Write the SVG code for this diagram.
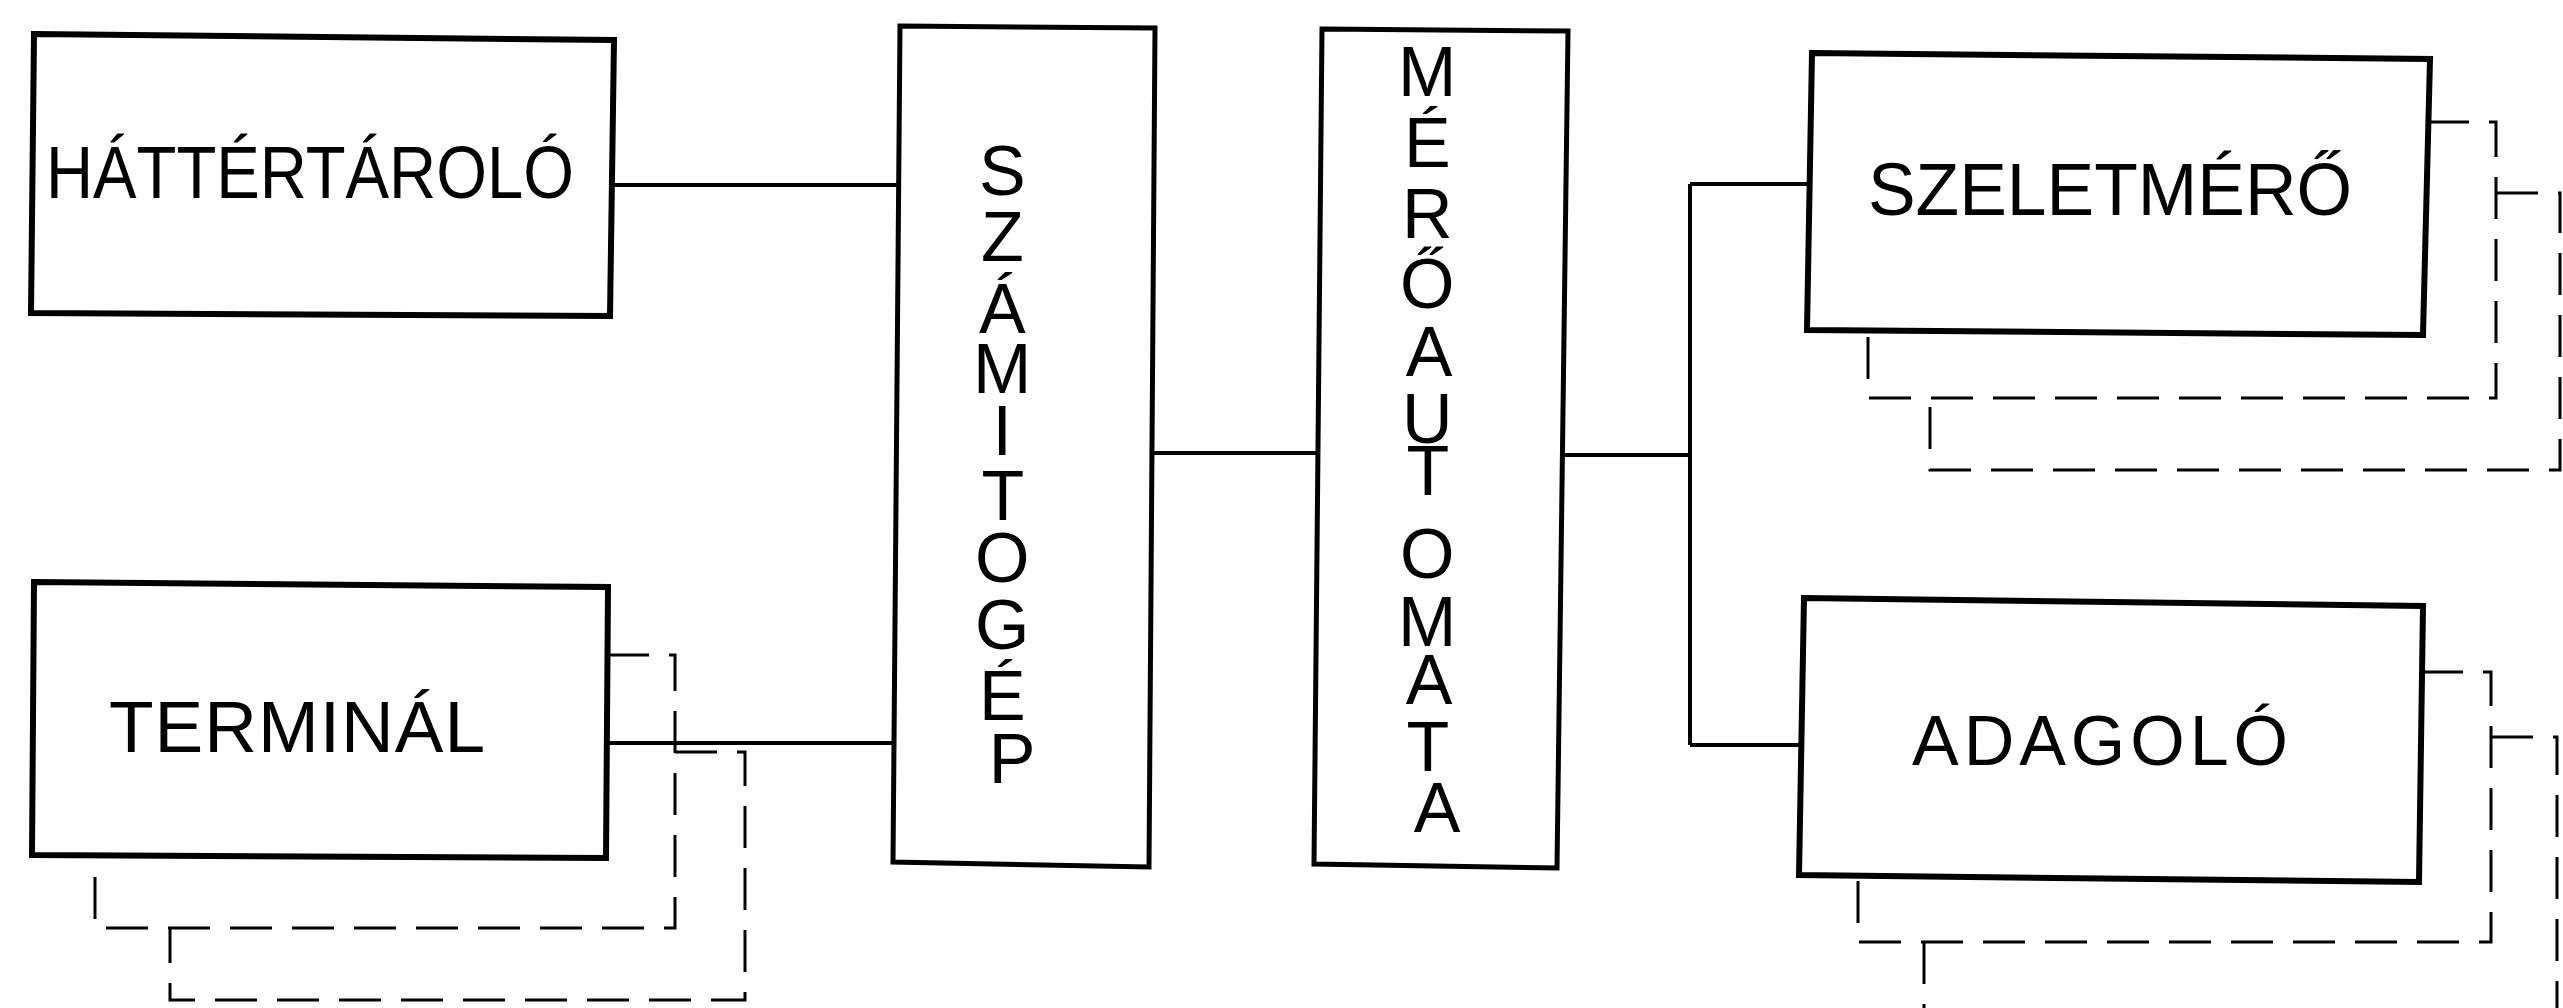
<svg xmlns="http://www.w3.org/2000/svg" width="2563" height="1008" viewBox="0 0 2563 1008">
  <style>
    .box { fill: none; stroke: #000; stroke-width: 6; stroke-linejoin: miter; }
    .tall { stroke-width: 5; }
    .wire { fill: none; stroke: #000; stroke-width: 4; }
    .stack { fill: none; stroke: #000; stroke-width: 3; stroke-dasharray: 42 20; }
    .lbl { font-family: "Liberation Sans", Arial, sans-serif; fill: #000; }
    .col { font-size: 70px; text-anchor: middle; }
  </style>
  <rect x="0" y="0" width="2563" height="1008" fill="#fff"/>

  <!-- solid links between the units -->
  <g id="connectors">
    <path class="wire" d="M614 185 H898"/>
    <path class="wire" d="M607 743 H895"/>
    <path class="wire" d="M1152 453 H1318"/>
    <path class="wire" d="M1561 455 H1690"/>
    <path class="wire" d="M1690 184 V745"/>
    <path class="wire" d="M1690 184 H1810"/>
    <path class="wire" d="M1690 745 H1801"/>
  </g>

  <!-- background store -->
  <g id="node-hattertarolo">
    <polygon class="box" points="34,34 614,40 610,316 31,313"/>
    <text class="lbl" x="46" y="198" font-size="74" textLength="528" lengthAdjust="spacingAndGlyphs">HÁTTÉRTÁROLÓ</text>
  </g>

  <!-- terminals, with the stacked units behind -->
  <g id="node-terminal">
    <path class="stack" d="M607 655 H675 V928 H95 V857"/>
    <path class="stack" d="M675 752 H745 V1000 H170 V928"/>
    <polygon class="box" points="34,582 608,587 606,858 32,855" fill="#fff"/>
    <text class="lbl" x="109" y="752" font-size="73" textLength="376" lengthAdjust="spacing">TERMINÁL</text>
  </g>

  <!-- computer: one letter per row -->
  <g id="node-szamitogep">
    <polygon class="box tall" points="900,26 1155,28 1149,867 893,862"/>
    <text class="lbl col">
      <tspan x="1012" y="195">S</tspan>
      <tspan x="1012" y="261">Z</tspan>
      <tspan x="1012" y="333">Á</tspan>
      <tspan x="1012" y="393">M</tspan>
      <tspan x="1012" y="455">I</tspan>
      <tspan x="1012" y="520">T</tspan>
      <tspan x="1012" y="582">O</tspan>
      <tspan x="1012" y="649">G</tspan>
      <tspan x="1012" y="720">É</tspan>
      <tspan x="1012" y="783">P</tspan>
    </text>
  </g>

  <!-- measuring automaton: one letter per row -->
  <g id="node-meroautomata">
    <polygon class="box tall" points="1322,29 1568,31 1557,868 1314,864"/>
    <text class="lbl col">
      <tspan x="1437" y="96">M</tspan>
      <tspan x="1437" y="167">É</tspan>
      <tspan x="1437" y="238">R</tspan>
      <tspan x="1437" y="308">Ő</tspan>
      <tspan x="1437" y="376">A</tspan>
      <tspan x="1437" y="443">U</tspan>
      <tspan x="1437" y="495">T</tspan>
      <tspan x="1437" y="578">O</tspan>
      <tspan x="1437" y="646">M</tspan>
      <tspan x="1437" y="704">A</tspan>
      <tspan x="1437" y="771">T</tspan>
      <tspan x="1437" y="832">A</tspan>
    </text>
  </g>

  <!-- slice meters, with the stacked units behind -->
  <g id="node-szeletmero">
    <path class="stack" d="M2427 122 H2496 V398 H1868 V333"/>
    <path class="stack" d="M2496 193 H2560 V470 H1930 V398"/>
    <polygon class="box" points="1812,53 2430,59 2423,335 1807,330" fill="#fff"/>
    <text class="lbl" x="1868" y="215" font-size="74" textLength="484" lengthAdjust="spacingAndGlyphs">SZELETMÉRŐ</text>
  </g>

  <!-- feeders, with the stacked units behind -->
  <g id="node-adagolo">
    <path class="stack" d="M2421 672 H2491 V942 H1858 V878"/>
    <path class="stack" d="M2491 737 H2557 V1012 M1924 942 V1012"/>
    <polygon class="box" points="1804,598 2423,606 2419,882 1799,875" fill="#fff"/>
    <text class="lbl" x="1912" y="765" font-size="70" textLength="376" lengthAdjust="spacing">ADAGOLÓ</text>
  </g>
</svg>
